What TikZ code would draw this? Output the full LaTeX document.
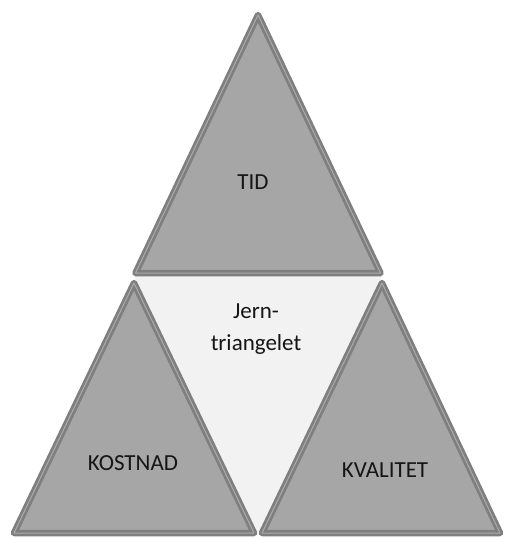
\documentclass[tikz,border=0pt]{standalone}
\usepackage{fontspec}
\setmainfont{Carlito}
\definecolor{tfill}{HTML}{A6A6A6}
\definecolor{tband}{HTML}{7F7F7F}
\definecolor{tline}{HTML}{ABABAB}
\definecolor{mfill}{HTML}{F2F2F2}
\definecolor{ttext}{HTML}{151515}
\begin{document}
\begin{tikzpicture}[x=1pt,y=-1pt,
  tri/.style={fill=tfill,draw=tband,line width=6.5pt,line join=round},
  triline/.style={draw=tline,line width=1pt,line join=round},
  lbl/.style={font=\fontsize{23}{32}\selectfont,text=ttext,align=center,inner sep=0pt}]
\useasboundingbox (0,0) rectangle (504,538);
% middle light triangle
\fill[mfill] (134,276) -- (382,276) -- (258,536) -- cycle;
% top
\coordinate (tA) at (258,15);
\coordinate (tL) at (135.5,273);
\coordinate (tR) at (380.5,273);
\draw[tri] (tA) -- (tL) -- (tR) -- cycle;
\draw[triline] (tA) -- (tL) -- (tR) -- cycle;
% bottom left
\coordinate (lA) at (134,283);
\coordinate (lL) at (14,533);
\coordinate (lR) at (254,533);
\draw[tri] (lA) -- (lL) -- (lR) -- cycle;
\draw[triline] (lA) -- (lL) -- (lR) -- cycle;
% bottom right
\coordinate (rA) at (382,283);
\coordinate (rL) at (262,533);
\coordinate (rR) at (500,533);
\draw[tri] (rA) -- (rL) -- (rR) -- cycle;
\draw[triline] (rA) -- (rL) -- (rR) -- cycle;
% labels
\node[lbl] (tid) at (253,182) {TID};
\node[lbl] (jern) at (256,329) {Jern-\\triangelet};
\node[lbl] (kost) at (133,463) {KOSTNAD};
\node[lbl] (kval) at (385,470) {KVALITET};
\end{tikzpicture}
\end{document}
